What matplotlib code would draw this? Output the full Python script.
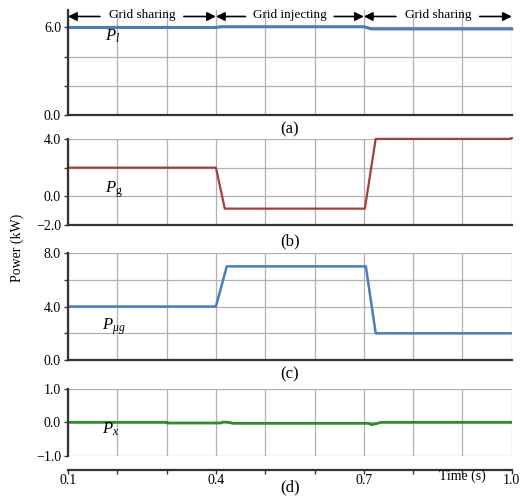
import matplotlib
matplotlib.use('Agg')
import matplotlib.pyplot as plt

plt.rcParams['font.family'] = ['Liberation Serif', 'DejaVu Serif']
plt.rcParams['font.size'] = 10
plt.rcParams['mathtext.fontset'] = 'custom'
plt.rcParams['mathtext.it'] = 'Liberation Serif:italic'
plt.rcParams['mathtext.rm'] = 'Liberation Serif'

# time breakpoints (s)
t_l = [0.1, 0.4, 0.41, 0.7, 0.715, 1.0]
p_l = [6.0, 6.0, 6.05, 6.05, 5.9, 5.9]

t_g = [0.1, 0.4, 0.418, 0.702, 0.724, 0.995, 1.0]
p_g = [2.0, 2.0, -0.85, -0.85, 4.0, 4.0, 4.05]

t_ug = [0.1, 0.4, 0.422, 0.704, 0.724, 1.0]
p_ug = [4.0, 4.0, 7.0, 7.0, 2.0, 2.0]

t_x = [0.1, 0.3, 0.301, 0.41, 0.415, 0.425, 0.435, 0.71, 0.715, 0.725, 0.735, 1.0]
p_x = [0.0, 0.0, -0.02, -0.02, 0.01, 0.0, -0.03, -0.03, -0.07, -0.04, 0.0, 0.0]

phases = ['Grid sharing', 'Grid injecting', 'Grid sharing']
phase_edges = [0.1, 0.4, 0.7, 1.0]
xtick_labels = {0.1: '0.1', 0.4: '0.4', 0.7: '0.7', 1.0: '1.0'}

fig = plt.figure(figsize=(5.29, 4.96), dpi=100)
L, W = 0.1285, 0.839
ax_a = fig.add_axes([L, 0.768, W, 0.212])
ax_b = fig.add_axes([L, 0.546, W, 0.174])
ax_c = fig.add_axes([L, 0.274, W, 0.216])
ax_d = fig.add_axes([L, 0.081, W, 0.135])

grid_c = '#b0b0b0'
spine_c = '#333333'
xgrid = [round(0.1 + 0.1 * i, 1) for i in range(10)]


def style(ax, ylim, yt):
    ax.set_xlim(0.1, 1.0)
    ax.set_ylim(*ylim)
    ax.set_xticks(xgrid)
    ax.set_yticks(yt)
    ax.grid(True, color=grid_c, lw=0.9)
    ax.set_axisbelow(True)
    for s in ['top', 'right']:
        ax.spines[s].set_visible(False)
    ax.spines['left'].set_color(spine_c)
    ax.spines['left'].set_linewidth(1.6)
    ax.spines['bottom'].set_color(spine_c)
    ax.spines['bottom'].set_linewidth(1.6)
    ax.tick_params(axis='y', direction='out', length=3, width=1, color=spine_c, pad=2, labelsize=10)
    ax.tick_params(axis='x', length=0, labelbottom=False)


# (a)
style(ax_a, (0, 7.2), [0, 2, 4, 6])
ax_a.set_yticklabels(['0.0', '', '', '6.0'])
ax_a.plot(t_l, p_l, color='#4a7ebb', lw=2.2, clip_on=False)
ax_a.text(0.175, 5.1, r'$P_l$', fontsize=12)
arrow_y = 6.75
for i, name in enumerate(phases):
    x0, x1 = phase_edges[i], phase_edges[i + 1]
    xm = (x0 + x1) / 2
    half = 0.09 if 'inj' in name else 0.085
    for start, end in [(xm - half, x0), (xm + half, x1)]:
        ax_a.annotate('', xy=(end, arrow_y), xytext=(start, arrow_y),
                      arrowprops=dict(arrowstyle='-|>', color='black', lw=1.2,
                                      mutation_scale=13, shrinkA=0, shrinkB=0))
    ax_a.text(xm, arrow_y + 0.1, name, ha='center', va='center', fontsize=9.5)
ax_a.text(0.55, -1.0, '(a)', ha='center', va='center', fontsize=12)

# (b)
style(ax_b, (-2, 4), [-2, 0, 2, 4])
ax_b.set_yticklabels(['\u22122.0', '0.0', '', '4.0'])
ax_b.plot(t_g, p_g, color='#a0413c', lw=1.6, clip_on=False)
ax_b.text(0.176, 0.3, r'$P_{\mathrm{g}}$', fontsize=12)
ax_b.text(0.55, -3.1, '(b)', ha='center', va='center', fontsize=12)

# (c)
style(ax_c, (0, 8), [0, 2, 4, 6, 8])
ax_c.set_yticklabels(['0.0', '', '4.0', '', '8.0'])
ax_c.plot(t_ug, p_ug, color='#4a7ebb', lw=1.8)
ax_c.text(0.17, 2.3, r'$P_{\mu g}$', fontsize=12)
ax_c.text(0.55, -1.1, '(c)', ha='center', va='center', fontsize=12)

# (d)
style(ax_d, (-1, 1), [-1, 0, 1])
ax_d.set_yticklabels(['\u22121.0', '0.0', '1.0'])
ax_d.plot(t_x, p_x, color='#2e8b2e', lw=2.0)
ax_d.text(0.17, -0.35, r'$P_x$', fontsize=12)
ax_d.spines['bottom'].set_position(('outward', 10))
ax_d.tick_params(axis='x', direction='out', length=3, width=1, color=spine_c,
                 labelbottom=True, pad=0, labelsize=10)
ax_d.set_xticklabels([xtick_labels.get(v, '') for v in xgrid])
ax_d.text(0.9, -1.6, 'Time (s)', ha='center', va='center', fontsize=10)
ax_d.text(0.55, -1.95, '(d)', ha='center', va='center', fontsize=12)

fig.text(0.033, 0.5, 'Power (kW)', rotation=90, ha='center', va='center', fontsize=10)

fig.savefig('out.png', dpi=100)
